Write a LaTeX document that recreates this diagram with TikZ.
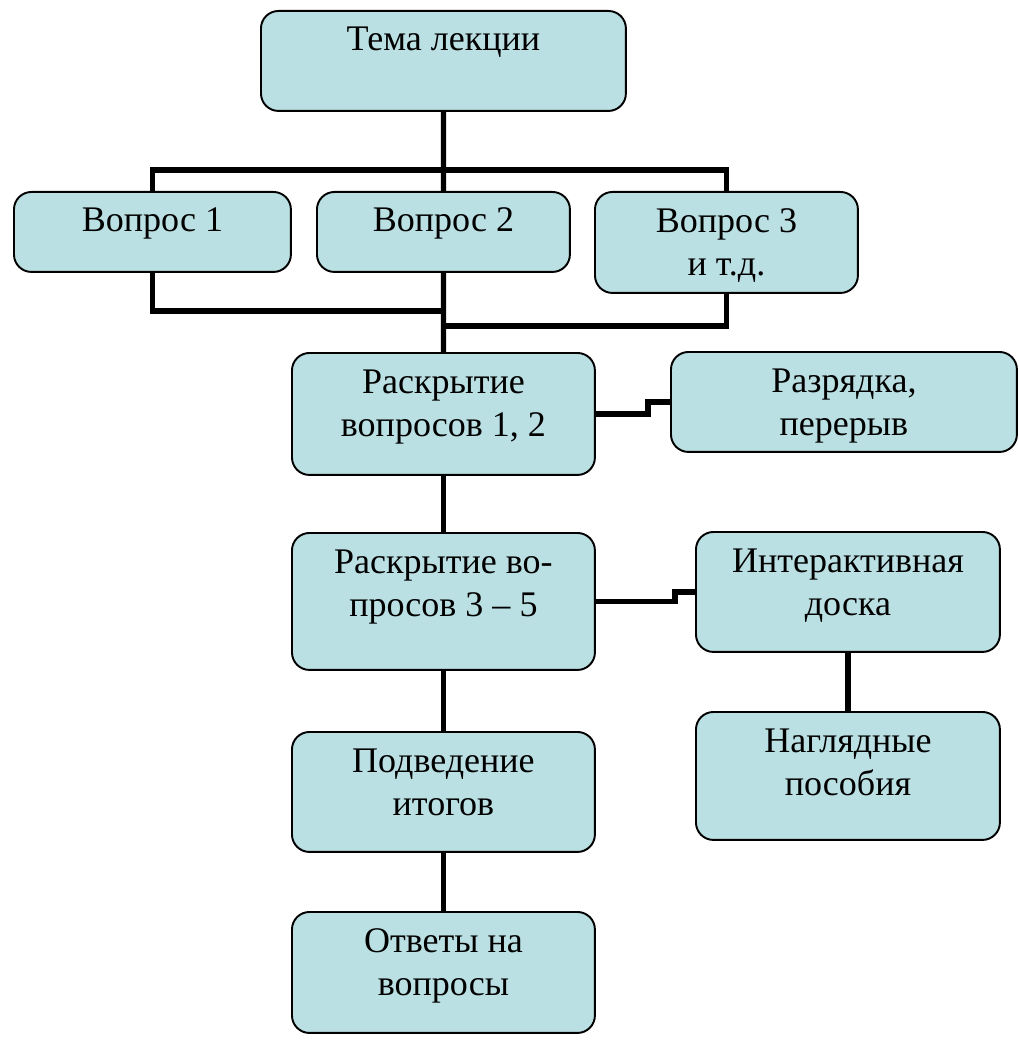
\documentclass[tikz,border=0pt]{standalone}
\usepackage{fontspec}
\setmainfont{Liberation Serif}
\definecolor{boxfill}{RGB}{187,224,227}
\begin{document}
\begin{tikzpicture}[x=0.02cm,y=-0.02cm,
		box/.style={draw,line width=1.1pt,rounded corners=0.35cm,fill=boxfill,anchor=north west,inner sep=0pt,align=center,text height=0.8cm,font=\fontsize{20.5pt}{25pt}\selectfont},
		twoline/.style={box,text height=1.68cm},
		link/.style={line width=3pt}]
		\useasboundingbox (0,0) rectangle (1018,1040);

		\node[box,minimum width=7.3cm,text depth=1.2cm] (tema) at (260,10) {Тема лекции};
		\node[box,minimum width=5.54cm,text depth=0.8cm] (q1) at (13,191) {Вопрос 1};
		\node[box,minimum width=5.06cm,text depth=0.8cm] (q2) at (316,191) {Вопрос 2};
		\node[twoline,minimum width=5.26cm,text depth=0.34cm] (q3) at (594,191) {Вопрос 3\\и т.д.};
		\node[twoline,minimum width=6.06cm,text depth=0.76cm] (rask1) at (291,352) {Раскрытие\\вопросов 1, 2};
		\node[twoline,minimum width=6.92cm,text depth=0.32cm] (razr) at (670,351) {Разрядка,\\перерыв};
		\node[twoline,minimum width=6.06cm,text depth=1.06cm] (rask2) at (291,532) {Раскрытие во-\\просов 3 – 5};
		\node[twoline,minimum width=6.08cm,text depth=0.72cm] (inter) at (695,531) {Интерактивная\\доска};
		\node[twoline,minimum width=6.06cm,text depth=0.72cm] (itog) at (291,731) {Подведение\\итогов};
		\node[twoline,minimum width=6.08cm,text depth=0.88cm] (nagl) at (695,711) {Наглядные\\пособия};
		\node[twoline,minimum width=6.06cm,text depth=0.74cm] (otv) at (291,911) {Ответы на\\вопросы};

		\coordinate (j1) at (0,311);
		\coordinate (j2) at (0,326);

		\draw[link] (tema.south) -- (q2.north);
		\draw[link] (q1.north) -- ++(0,-21) -| (q3.north);
		\draw[link] (q1.south) |- (q2.south |- j1);
		\draw[link] (q3.south) |- (q2.south |- j2);
		\draw[link] (q2.south) -- (rask1.north);
		\draw[link] (rask1.east) -- ++(52,0) |- (razr.west);
		\draw[link] (rask1.south) -- (rask2.north);
		\draw[link] (rask2.east) -- ++(79,0) |- (inter.west);
		\draw[link] (inter.south) -- (nagl.north);
		\draw[link] (rask2.south) -- (itog.north);
		\draw[link] (itog.south) -- (otv.north);
\end{tikzpicture}
\end{document}
